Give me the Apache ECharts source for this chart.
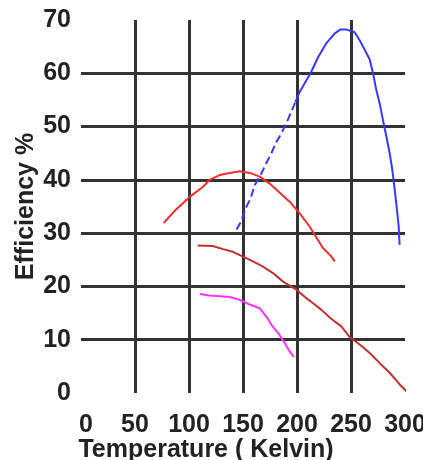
<!DOCTYPE html>
<html>
<head>
<meta charset="utf-8">
<script src="https://cdn.jsdelivr.net/npm/echarts@6/dist/echarts.min.js"></script>
<style>html,body{margin:0;padding:0;background:#fff}#c{width:423px;height:460px}</style>
</head>
<body>
<div id="c"></div>
<script>
// Temperature (Kelvin) vs Efficiency %
var xTicks = [0, 50, 100, 150, 200, 250, 300];
var yTicks = [0, 10, 20, 30, 40, 50, 60, 70];

var blueRise = [[144,30.7],[148.5,32.3],[152.5,34.7],[157,36.5],[160.8,39],[167,41.2],[170.7,42.8],[176.3,45],[180.9,47.1],[185.5,48.7],[190.7,50.9],[198.5,54.6]];
var blueTop = [[198.5,54.6],[202.5,56.5],[208.7,58.7],[213,60.2],[219.5,63],[227,65.6],[235,67.5],[240,68.2],[246,68.2],[253.4,67.7],[258,66.2],[263,64.3],[267.3,62.6],[270.4,60],[273.5,56.8],[276.6,54.3],[279.6,51.2],[282.8,48.1],[285.8,45],[288.3,41.8],[290.5,38.1],[292.6,34.3],[294.2,31.2],[295,27.8]];
var redCurve = [[76.5,31.9],[88.3,34.5],[100.6,36.8],[113,38.7],[119,40],[128.4,40.9],[137.7,41.3],[146.9,41.6],[156.2,41.3],[165.5,40.6],[174.7,39.3],[184,37.6],[193.2,35.9],[202.5,33.7],[211.8,31.2],[216.4,29.7],[224,27.2],[231.9,25.6],[234.9,24.7]];
var darkRedCurve = [[108,27.7],[122,27.6],[131.5,27],[140.7,26.5],[150,25.6],[159.3,24.7],[168.5,23.7],[177.8,22.5],[187,20.9],[199.4,19.4],[208.7,17.8],[216.4,16.6],[222.6,15.6],[231.9,13.9],[241.1,12.5],[248.8,10.5],[258,9.1],[267.3,7.5],[276.6,5.6],[285.8,3.8],[295.1,1.6],[304,-0.2]];
var magentaCurve = [[110,18.6],[119,18.3],[137.7,18],[146.9,17.5],[156.2,16.6],[165.5,15.9],[171.7,14.3],[176.3,12.8],[182.4,11.3],[188.6,9.4],[193.2,7.8],[197,6.8]];

var FONT = 'Liberation Sans';
var TXT = '#222';

function lineSeries(data, color, type) {
  return {
    type: 'line', data: data, symbol: 'none', smooth: false, clip: false,
    lineStyle: { color: color, width: 2, type: type || 'solid' },
    animation: false
  };
}

var chart = echarts.init(document.getElementById('c'), null, { renderer: 'canvas' });
chart.setOption({
  animation: false,
  backgroundColor: '#fff',
  grid: { left: 81, right: 18, top: 20, bottom: 67, containLabel: false, outerBoundsMode: 'none' },
  xAxis: {
    type: 'value', min: xTicks[0], max: xTicks[xTicks.length - 1], interval: 50,
    axisLine: { show: false }, axisTick: { show: false },
    splitLine: { show: true, showMinLine: false, showMaxLine: false, lineStyle: { color: '#333', width: 3 } },
    axisLabel: {
      margin: 20, color: TXT, fontFamily: FONT, fontWeight: 'bold', fontSize: 25, hideOverlap: false,
      formatter: function (v) { return v === 0 ? '{z|0}' : String(v); },
      rich: { z: { padding: [0, 0, 0, 10], color: TXT, fontFamily: FONT, fontWeight: 'bold', fontSize: 25 } }
    },
    name: 'Temperature ( Kelvin)', nameLocation: 'middle', nameGap: 45, nameMoveOverlap: false,
    nameTextStyle: { color: TXT, fontFamily: FONT, fontWeight: 'bold', fontSize: 25, padding: [0, 74, 0, 0] }
  },
  yAxis: {
    type: 'value', min: yTicks[0], max: yTicks[yTicks.length - 1], interval: 10,
    axisLine: { show: false }, axisTick: { show: false },
    splitLine: { show: true, showMinLine: false, showMaxLine: false, lineStyle: { color: '#333', width: 3 } },
    axisLabel: { margin: 10, color: TXT, fontFamily: FONT, fontWeight: 'bold', fontSize: 25 },
    name: 'Efficiency %', nameLocation: 'middle', nameGap: 36, nameRotate: 90, nameMoveOverlap: false,
    nameTextStyle: { color: TXT, fontFamily: FONT, fontWeight: 'bold', fontSize: 25, padding: [0, 0, 6, 0] }
  },
  series: [
    lineSeries(blueRise, '#3838ff', [8, 4]),
    lineSeries(blueTop, '#3838ff'),
    lineSeries(redCurve, '#ff2a2a'),
    lineSeries(darkRedCurve, '#c43030'),
    lineSeries(magentaCurve, '#ff33ff')
  ]
});
</script>
</body>
</html>
